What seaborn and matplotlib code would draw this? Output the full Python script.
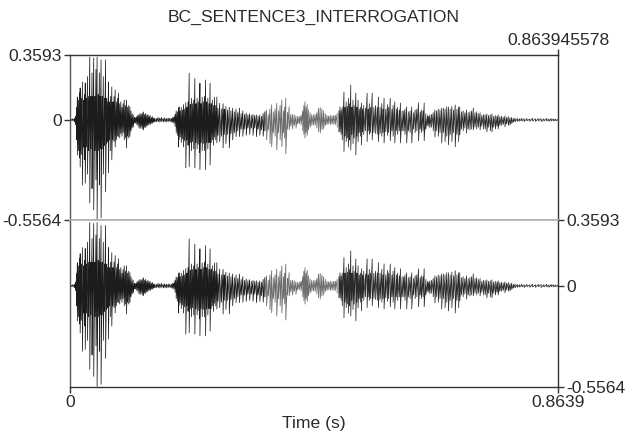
import numpy as np
import matplotlib
matplotlib.use("Agg")
import matplotlib.pyplot as plt
import seaborn as sns

# Waveform peaks (time in ms, amplitude in 1/1000)
time_ms = [
    2, 5, 8, 10, 12, 13, 15, 17, 18, 20,
    22, 24, 26, 27, 29, 31, 33, 35, 37, 39,
    40, 42, 44, 46, 48, 50, 52, 53, 55, 57,
    59, 61, 63, 65, 67, 68, 70, 72, 74, 76,
    78, 80, 82, 84, 86, 88, 90, 92, 94, 96,
    98, 100, 102, 104, 106, 108, 110, 112, 114, 116,
    118, 120, 122, 124, 126, 128, 130, 132, 134, 136,
    138, 140, 142, 144, 146, 148, 150, 153, 156, 159,
    162, 165, 168, 171, 174, 177, 180, 182, 184, 186,
    188, 190, 192, 193, 195, 197, 199, 201, 203, 205,
    207, 209, 211, 213, 215, 217, 219, 221, 223, 225,
    227, 229, 230, 232, 234, 236, 238, 240, 242, 244,
    246, 248, 250, 252, 254, 256, 258, 260, 262, 265,
    268, 271, 273, 276, 279, 282, 285, 288, 291, 294,
    297, 300, 303, 306, 309, 312, 315, 318, 321, 324,
    327, 330, 333, 336, 339, 342, 345, 348, 351, 354,
    357, 360, 363, 366, 369, 372, 375, 378, 380, 382,
    385, 388, 391, 394, 397, 400, 403, 406, 409, 412,
    414, 416, 418, 420, 422, 425, 428, 431, 434, 437,
    440, 443, 446, 449, 452, 455, 458, 461, 464, 467,
    470, 473, 476, 478, 480, 482, 485, 487, 489, 491,
    493, 495, 497, 499, 501, 503, 506, 508, 510, 512,
    514, 516, 518, 520, 523, 526, 528, 530, 532, 535,
    538, 541, 544, 546, 549, 552, 554, 556, 559, 562,
    564, 567, 570, 572, 575, 578, 580, 583, 585, 588,
    591, 593, 596, 599, 602, 605, 608, 611, 614, 617,
    620, 622, 625, 627, 630, 633, 635, 637, 640, 643,
    646, 649, 652, 655, 658, 661, 664, 667, 670, 673,
    676, 679, 682, 685, 688, 690, 693, 696, 699, 702,
    705, 708, 711, 714, 717, 720, 723, 726, 729, 732,
    735, 738, 741, 744, 747, 750, 753, 756, 758, 761,
    764, 767, 770, 773, 776, 779, 782, 785, 788, 792,
    796, 800, 804, 809, 814, 819, 824, 829, 834, 839,
    844, 848, 852, 856, 860, 864,
]
peak_hi = [
    4, 6, 8, 20, 70, 127, 110, 150, 177, 120,
    210, 110, 140, 205, 120, 240, 130, 348, 130, 260,
    130, 343, 130, 280, 348, 140, 260, 130, 332, 130,
    240, 120, 332, 120, 100, 210, 100, 130, 182, 100,
    130, 166, 100, 120, 149, 90, 100, 70, 90, 110,
    80, 110, 70, 80, 72, 50, 35, 28, 14, 12,
    18, 25, 28, 36, 30, 38, 44, 30, 36, 26,
    30, 22, 24, 14, 18, 10, 10, 8, 14, 10,
    14, 8, 12, 8, 10, 10, 8, 14, 16, 30,
    50, 45, 60, 72, 50, 70, 55, 85, 60, 95,
    70, 100, 258, 85, 120, 90, 110, 230, 90, 120,
    100, 130, 203, 90, 125, 100, 130, 221, 100, 120,
    90, 203, 90, 110, 80, 125, 80, 127, 65, 92,
    60, 90, 60, 75, 55, 70, 50, 65, 45, 60,
    40, 65, 35, 50, 30, 38, 28, 34, 25, 30,
    25, 28, 20, 27, 20, 35, 45, 55, 30, 60,
    83, 45, 60, 92, 50, 80, 110, 50, 70, 120,
    40, 73, 30, 30, 28, 22, 18, 20, 25, 50,
    80, 100, 70, 85, 55, 40, 30, 28, 30, 40,
    65, 68, 60, 50, 35, 25, 22, 25, 22, 25,
    25, 35, 50, 72, 55, 70, 155, 70, 100, 75,
    120, 90, 193, 70, 110, 80, 148, 70, 110, 60,
    70, 94, 60, 80, 65, 148, 60, 90, 70, 148,
    70, 80, 70, 127, 70, 90, 60, 120, 60, 85,
    70, 120, 60, 80, 100, 60, 70, 55, 94, 50,
    50, 60, 72, 45, 50, 72, 40, 55, 60, 94,
    45, 55, 50, 94, 35, 25, 20, 28, 30, 40,
    55, 50, 60, 55, 66, 65, 60, 72, 72, 60,
    75, 55, 83, 60, 72, 72, 45, 50, 40, 55,
    40, 45, 50, 66, 40, 45, 35, 40, 25, 30,
    28, 33, 25, 28, 33, 20, 25, 20, 28, 18,
    20, 15, 22, 14, 18, 12, 14, 8, 10, 8,
    6, 9, 6, 8, 5, 9, 6, 8, 7, 6,
    8, 5, 7, 6, 5, 3,
]
peak_lo = [
    4, 6, 10, 25, 110, 194, 170, 210, 260, 190,
    360, 150, 220, 350, 150, 300, 170, 459, 160, 380,
    170, 498, 170, 330, 553, 170, 360, 160, 542, 160,
    300, 140, 398, 130, 120, 293, 110, 170, 221, 110,
    120, 149, 110, 90, 92, 100, 75, 90, 70, 110,
    100, 155, 90, 100, 92, 60, 45, 39, 16, 18,
    24, 30, 42, 48, 40, 50, 55, 40, 42, 34,
    30, 24, 26, 18, 18, 12, 12, 10, 10, 12,
    8, 12, 10, 12, 8, 10, 12, 14, 18, 36,
    70, 85, 150, 110, 95, 125, 105, 150, 115, 265,
    110, 140, 258, 125, 170, 120, 160, 265, 125, 160,
    135, 180, 275, 125, 170, 130, 170, 275, 125, 160,
    125, 249, 125, 110, 140, 95, 110, 127, 85, 120,
    90, 155, 80, 130, 80, 155, 75, 110, 70, 92,
    60, 92, 50, 90, 50, 85, 45, 80, 45, 85,
    45, 92, 50, 85, 55, 90, 60, 110, 55, 130,
    148, 70, 90, 166, 70, 110, 148, 70, 100, 188,
    50, 55, 35, 50, 30, 45, 22, 20, 28, 60,
    80, 100, 70, 85, 55, 40, 30, 28, 30, 45,
    65, 72, 55, 50, 30, 25, 22, 25, 22, 25,
    25, 40, 66, 66, 80, 110, 175, 90, 120, 100,
    150, 110, 166, 80, 130, 100, 193, 90, 120, 70,
    90, 138, 65, 80, 60, 120, 60, 80, 70, 110,
    70, 75, 80, 120, 75, 90, 70, 127, 65, 85,
    70, 115, 60, 90, 127, 60, 80, 60, 127, 60,
    60, 80, 127, 60, 70, 127, 50, 70, 60, 115,
    50, 70, 60, 115, 50, 30, 35, 44, 40, 60,
    94, 60, 90, 70, 127, 70, 120, 90, 138, 80,
    120, 70, 149, 80, 120, 83, 50, 60, 45, 72,
    50, 55, 50, 55, 40, 50, 40, 55, 35, 50,
    50, 66, 40, 60, 66, 40, 50, 35, 50, 30,
    30, 25, 38, 22, 30, 27, 20, 12, 10, 8,
    7, 6, 9, 5, 8, 6, 8, 5, 9, 6,
    6, 8, 5, 6, 5, 3,
]

y_max = 0.3593
y_min = -0.5564
t_end = 0.8639
y_ticks = [y_max, 0, y_min]
y_labels = ["0.3593", "0", "-0.5564"]
# stretch of the recording drawn lighter in the picture
light_start = 0.345
light_end = 0.475

sns.set_theme(style="ticks")
plt.rcParams["font.family"] = ["Liberation Sans", "DejaVu Sans"]

# Zigzag between the upper and lower peak of each period
t_sec = np.repeat(np.array(time_ms) / 1000, 2)
amp = np.column_stack([np.array(peak_hi), -np.array(peak_lo)]).ravel() / 1000
is_light = (t_sec >= light_start) & (t_sec <= light_end)
dark_before = t_sec <= light_start
dark_after = t_sec >= light_end

fig = plt.figure(figsize=(6.3, 4.4), dpi=100)
W, H = 630, 440
ax_top = fig.add_axes([70 / W, 1 - 220.5 / H, 488 / W, 165.5 / H])
ax_bot = fig.add_axes([70 / W, 1 - 387 / H, 488 / W, 166.5 / H])
label_size = 12.6
ink = "#2a2a2a"

for ax in (ax_top, ax_bot):
    sns.lineplot(x=t_sec[dark_before], y=amp[dark_before], sort=False, estimator=None,
                 color="#1c1c1c", linewidth=0.55, ax=ax)
    sns.lineplot(x=t_sec[is_light], y=amp[is_light], sort=False, estimator=None,
                 color="#6e6e6e", linewidth=0.6, ax=ax)
    sns.lineplot(x=t_sec[dark_after], y=amp[dark_after], sort=False, estimator=None,
                 color="#2a2a2a", linewidth=0.55, ax=ax)
    ax.set_xlim(0, t_end)
    ax.set_ylim(y_min, y_max)
    ax.set_ylabel("")
    for side in ax.spines:
        ax.spines[side].set_visible(True)
        ax.spines[side].set_color("#333333")
        ax.spines[side].set_linewidth(1.0)
    ax.spines["left"].set_color("#555555")

ax_top.spines["bottom"].set_color("#b0b0b0")
ax_top.spines["bottom"].set_linewidth(1.2)
ax_bot.spines["top"].set_color("#b0b0b0")
ax_bot.spines["top"].set_linewidth(1.2)

# Top channel: amplitude labels on the left, full duration above
ax_top.set_yticks(y_ticks)
ax_top.set_yticklabels(y_labels)
ax_top.set_xticks([t_end])
ax_top.set_xticklabels(["0.863945578"])
ax_top.tick_params(axis="x", top=True, bottom=False, labeltop=True, labelbottom=False,
                   length=4, width=1, color="#333333", labelsize=label_size, labelcolor=ink, pad=1)
ax_top.tick_params(axis="y", left=True, right=False, labelleft=True, labelright=False,
                   length=4, width=1, color="#333333", labelsize=label_size, labelcolor=ink, pad=2)

# Bottom channel: amplitude labels on the right
ax_bot.set_yticks(y_ticks)
ax_bot.set_yticklabels(y_labels)
ax_bot.set_xticks([0, t_end])
ax_bot.set_xticklabels(["0", "0.8639"])
ax_bot.tick_params(axis="y", left=False, right=True, labelleft=False, labelright=True,
                   length=4, width=1, color="#333333", labelsize=label_size, labelcolor=ink, pad=2)
ax_bot.tick_params(axis="x", length=4, width=1, color="#333333", labelsize=label_size,
                   labelcolor=ink, pad=2)
ax_bot.set_xlabel("Time (s)", fontsize=label_size, color=ink, labelpad=4)

fig.text(314 / W, 1 - 17 / H, "BC_SENTENCE3_INTERROGATION", ha="center", va="center",
         fontsize=label_size, color=ink)

fig.savefig("out.png", dpi=100)
